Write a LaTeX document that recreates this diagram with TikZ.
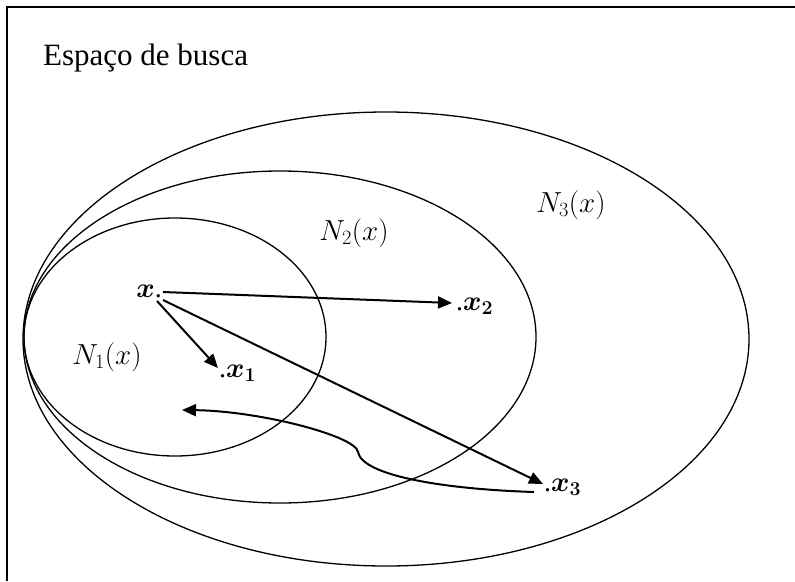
\RequirePackage{fix-cm}
\documentclass[tikz,border=0pt]{standalone}
\usepackage{fontspec}
\setmainfont{Liberation Serif}
\usepackage{bm}
\usetikzlibrary{arrows.meta}
\begin{document}
\begin{tikzpicture}[x=1pt,y=-1pt,
  region/.style={draw, line width=1.3pt},
  frameline/.style={line width=2.2pt},
  vec/.style={line width=2pt, -{Triangle[length=14pt,width=12pt]}},
  lbl/.style={inner sep=0pt, font=\fontsize{29}{34}\selectfont},
  ptlbl/.style={inner sep=0pt, font=\fontsize{28}{33}\selectfont},
  title/.style={inner sep=0pt, font=\fontsize{31}{36}\selectfont},
]
\useasboundingbox (0,0) rectangle (795,581);
% frame
\draw[frameline] (795,7) -- (7,7) -- (7,581);
\node[title, anchor=base west] (esp) at (43,65) {Espaço de busca};
% neighbourhoods
\draw[region] (386,339) ellipse [x radius=363pt, y radius=227pt];
\draw[region] (280,337) ellipse [x radius=256pt, y radius=166pt];
\draw[region] (175,337) ellipse [x radius=151pt, y radius=119pt];
\node[lbl] (n1) at (107,357) {$N_1(x)$};
\node[lbl] (n2) at (354,233) {$N_2(x)$};
\node[lbl] (n3) at (571,205) {$N_3(x)$};
% points
\node[ptlbl, anchor=base east] (x) at (162,297) {$\bm{x}$.};
\node[ptlbl, anchor=base west] (x1) at (219,377) {.$\bm{x_1}$};
\node[ptlbl, anchor=base west] (x2) at (456,310) {.$\bm{x_2}$};
\node[ptlbl, anchor=base west] (x3) at (544,491) {.$\bm{x_3}$};
\coordinate (s1) at (157,301);
\coordinate (s2) at (163,292);
\coordinate (s3) at (163,300);
\coordinate (t1) at (218,368);
\coordinate (t2) at (452,303);
\coordinate (t3) at (543,484);
\draw[vec] (s1) -- (t1);
\draw[vec] (s2) -- (t2);
\draw[vec] (s3) -- (t3);
% return move
\coordinate (c0) at (534,492);
\coordinate (cm) at (358,452);
\coordinate (t4) at (182,410);
\draw[vec] (c0) .. controls (440,489) and (362,475) .. (cm)
  .. controls (356,436) and (260,411) .. (t4);
\end{tikzpicture}
\end{document}
